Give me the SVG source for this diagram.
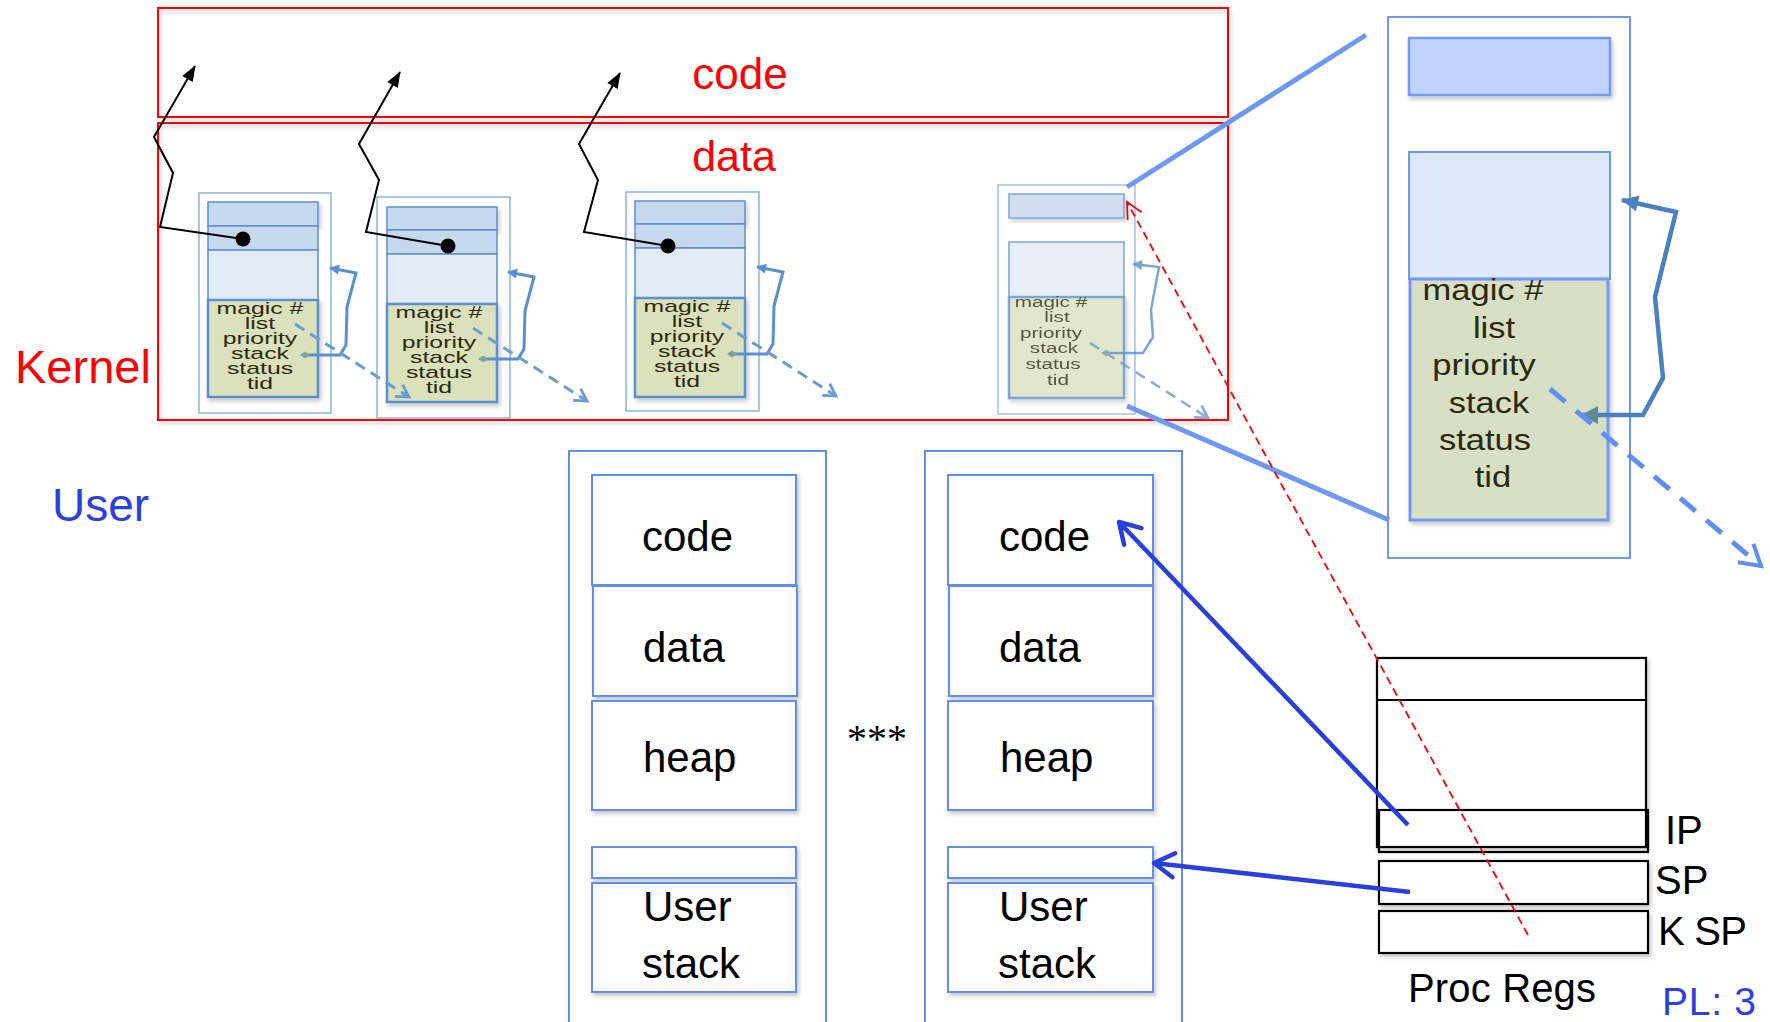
<svg xmlns="http://www.w3.org/2000/svg" width="1770" height="1022" viewBox="0 0 1770 1022">
<style>
.red{fill:none;stroke:#ff0000;stroke-width:2}
.rtxt{font-family:"Liberation Sans",Arial,sans-serif;fill:#ff0000}
.btxt{font-family:"Liberation Sans",Arial,sans-serif;fill:#2a40e0}
.tcbo{fill:#fff;stroke:#8db1dd;stroke-width:1.5}
.hdr{fill:#c6d8ee;stroke:#5b8fcf;stroke-width:1.5}
.lt{fill:#e2eaf5;stroke:#5b8fcf;stroke-width:1.5}
.gr{fill:#dbe0bd;stroke:#5b8fcf;stroke-width:2.5}
.tt{font-family:"Liberation Sans",Arial,sans-serif;font-size:16px;fill:#2b2b0a;text-anchor:middle}
.ub{fill:#fff;stroke:#5f8ff5;stroke-width:2}
.ut{font-family:"Liberation Sans",Arial,sans-serif;font-size:42px;fill:#000}
.reg{fill:#fff;stroke:#000;stroke-width:2.2}
.blk{fill:none;stroke:#000;stroke-width:2}
.loop{fill:none;stroke:#5b8fcf;stroke-width:3}
.dash{fill:none;stroke:#6a9bd1;stroke-width:3;stroke-dasharray:11 7}
.zoom{fill:none;stroke:#6f98f4;stroke-width:5}
.ua{fill:none;stroke:#2a3fe0;stroke-width:4.5}
</style>
<defs>
<filter id="sh" x="-10%" y="-10%" width="130%" height="130%">
<feDropShadow dx="2" dy="3" stdDeviation="2" flood-color="#000" flood-opacity="0.22"/>
</filter>
<marker id="mblk" markerUnits="userSpaceOnUse" viewBox="0 0 1 1" markerWidth="1" markerHeight="1" orient="auto" overflow="visible"><path d="M-15,-6 L1,0 L-15,6 Z" fill="#000"/></marker>
<marker id="mloop" markerUnits="userSpaceOnUse" viewBox="0 0 1 1" markerWidth="1" markerHeight="1" orient="auto" overflow="visible"><path d="M-9,-5 L1,0 L-9,5 Z" fill="#5b8fcf"/></marker>
<marker id="mdia" markerUnits="userSpaceOnUse" viewBox="0 0 1 1" markerWidth="1" markerHeight="1" orient="auto" overflow="visible"><path d="M-5,0 L0,-3.5 L5,0 L0,3.5 Z" fill="#7fa3a3"/></marker>
<marker id="mdv" markerUnits="userSpaceOnUse" viewBox="0 0 1 1" markerWidth="1" markerHeight="1" orient="auto" overflow="visible"><path d="M-12,-7 L0,0 L-12,7" fill="none" stroke="#6a9bd1" stroke-width="2.8"/></marker>
<marker id="mbv" markerUnits="userSpaceOnUse" viewBox="0 0 1 1" markerWidth="1" markerHeight="1" orient="auto" overflow="visible"><path d="M-20,-12 L0,0 L-20,12" fill="none" stroke="#2a3fe0" stroke-width="4.5" stroke-linecap="round" stroke-linejoin="round"/></marker>
<marker id="mrv" markerUnits="userSpaceOnUse" viewBox="0 0 1 1" markerWidth="1" markerHeight="1" orient="auto" overflow="visible"><path d="M-16,-8 L0,0 L-16,8" fill="none" stroke="#ff0000" stroke-width="1.8"/></marker>
<marker id="mbigdv" markerUnits="userSpaceOnUse" viewBox="0 0 1 1" markerWidth="1" markerHeight="1" orient="auto" overflow="visible"><path d="M-20,-12 L0,0 L-20,12" fill="none" stroke="#5f8ff5" stroke-width="4"/></marker>
<marker id="mbigloop" markerUnits="userSpaceOnUse" viewBox="0 0 1 1" markerWidth="1" markerHeight="1" orient="auto" overflow="visible"><path d="M-16,-8 L1,0 L-16,8 Z" fill="#4a7fc1"/></marker>
<marker id="mbigstart" markerUnits="userSpaceOnUse" viewBox="0 0 1 1" markerWidth="1" markerHeight="1" orient="auto-start-reverse" overflow="visible"><path d="M-16,-9 L1,0 L-16,9 Z" fill="#5f8a95"/></marker>
</defs>

<rect x="0" y="0" width="1770" height="1022" fill="#fff"/>

<g id="kernel-regions">
<rect class="red" x="158" y="8" width="1070" height="109" filter="url(#sh)"/>
<rect class="red" x="158" y="123" width="1070" height="297" filter="url(#sh)"/>
<text class="rtxt" x="740" y="89" font-size="44" text-anchor="middle">code</text>
<text class="rtxt" x="734" y="171" font-size="43" text-anchor="middle">data</text>
<text class="rtxt" x="15" y="383" font-size="47">Kernel</text>
<text class="btxt" x="52" y="521" font-size="46">User</text>
</g>

<g id="tcb1" transform="translate(199,193)">
<rect class="tcbo" x="0" y="0" width="132" height="220"/>
<rect class="hdr" x="9" y="9" width="110" height="24" filter="url(#sh)"/>
<rect class="hdr" x="9" y="33" width="110" height="24"/>
<rect class="lt" x="9" y="57" width="110" height="50"/>
<rect class="gr" x="9" y="107" width="110" height="97" filter="url(#sh)"/>
<g class="tt">
<text transform="translate(61,121) scale(1.55,1)">magic #</text>
<text transform="translate(61,136) scale(1.55,1)">list</text>
<text transform="translate(61,151) scale(1.55,1)">priority</text>
<text transform="translate(61,166) scale(1.55,1)">stack</text>
<text transform="translate(61,181) scale(1.55,1)">status</text>
<text transform="translate(61,196) scale(1.55,1)">tid</text>
</g>
</g>

<g id="tcb2" transform="translate(377,197)">
<rect class="tcbo" x="0" y="0" width="133" height="221"/>
<rect class="hdr" x="10" y="10" width="110" height="23" filter="url(#sh)"/>
<rect class="hdr" x="10" y="33" width="110" height="24"/>
<rect class="lt" x="10" y="57" width="110" height="50"/>
<rect class="gr" x="10" y="107" width="110" height="98" filter="url(#sh)"/>
<g class="tt">
<text transform="translate(62,121) scale(1.55,1)">magic #</text>
<text transform="translate(62,136) scale(1.55,1)">list</text>
<text transform="translate(62,151) scale(1.55,1)">priority</text>
<text transform="translate(62,166) scale(1.55,1)">stack</text>
<text transform="translate(62,181) scale(1.55,1)">status</text>
<text transform="translate(62,196) scale(1.55,1)">tid</text>
</g>
</g>

<g id="tcb3" transform="translate(626,192)">
<rect class="tcbo" x="0" y="0" width="133" height="219"/>
<rect class="hdr" x="9" y="9" width="110" height="23" filter="url(#sh)"/>
<rect class="hdr" x="9" y="32" width="110" height="24"/>
<rect class="lt" x="9" y="56" width="110" height="50"/>
<rect class="gr" x="9" y="106" width="110" height="99" filter="url(#sh)"/>
<g class="tt">
<text transform="translate(61,120) scale(1.55,1)">magic #</text>
<text transform="translate(61,135) scale(1.55,1)">list</text>
<text transform="translate(61,150) scale(1.55,1)">priority</text>
<text transform="translate(61,165) scale(1.55,1)">stack</text>
<text transform="translate(61,180) scale(1.55,1)">status</text>
<text transform="translate(61,195) scale(1.55,1)">tid</text>
</g>
</g>

<g id="tcb4" opacity="0.8">
<rect class="tcbo" x="998" y="185" width="137" height="229"/>
<rect class="hdr" x="1009" y="194" width="115" height="24" filter="url(#sh)"/>
<rect class="lt" x="1009" y="242" width="115" height="55"/>
<rect class="gr" x="1009" y="297" width="115" height="101" stroke-width="2" filter="url(#sh)"/>
<g class="tt" style="font-size:15px">
<text transform="translate(1051,307) scale(1.38,1)">magic #</text>
<text transform="translate(1057,322) scale(1.38,1)">list</text>
<text transform="translate(1051,338) scale(1.38,1)">priority</text>
<text transform="translate(1054,353) scale(1.38,1)">stack</text>
<text transform="translate(1053,369) scale(1.38,1)">status</text>
<text transform="translate(1058,385) scale(1.38,1)">tid</text>
</g>
</g>

<g id="tcb-zoomed">
<rect x="1388" y="17" width="242" height="541" fill="#fff" stroke="#6f98f4" stroke-width="2"/>
<rect x="1409" y="38" width="201" height="57" fill="#c0d3fb" stroke="#6f98f4" stroke-width="2.5" filter="url(#sh)"/>
<rect x="1409" y="152" width="201" height="127" fill="#dde8fd" stroke="#6f98f4" stroke-width="2"/>
<rect x="1410" y="279" width="198" height="241" fill="#d9dfc4" stroke="#6f98f4" stroke-width="3" filter="url(#sh)"/>
<g class="tt" style="font-size:30px;fill:#2a2a08">
<text transform="translate(1483,300) scale(1.15,1)">magic #</text>
<text transform="translate(1494,338) scale(1.15,1)">list</text>
<text transform="translate(1484,375) scale(1.15,1)">priority</text>
<text transform="translate(1489,413) scale(1.15,1)">stack</text>
<text transform="translate(1485,450) scale(1.15,1)">status</text>
<text transform="translate(1493,487) scale(1.15,1)">tid</text>
</g>
</g>

<g id="user-space-1">
<rect class="ub" x="569" y="451" width="257" height="590"/>
<rect class="ub" x="592" y="475" width="204" height="110" filter="url(#sh)"/>
<rect class="ub" x="593" y="586" width="204" height="110" filter="url(#sh)"/>
<rect class="ub" x="592" y="701" width="204" height="109" filter="url(#sh)"/>
<rect class="ub" x="592" y="847" width="204" height="31" filter="url(#sh)"/>
<rect class="ub" x="592" y="883" width="204" height="109" filter="url(#sh)"/>
<text class="ut" x="642" y="551">code</text>
<text class="ut" x="643" y="662">data</text>
<text class="ut" x="643" y="772">heap</text>
<text class="ut" x="643" y="921">User</text>
<text class="ut" x="642" y="978">stack</text>
</g>

<g id="ellipsis">
<text x="847" y="752" font-family="'Liberation Serif','Times New Roman',serif" font-size="40" fill="#000">***</text>
</g>

<g id="user-space-2">
<rect class="ub" x="925" y="451" width="257" height="590"/>
<rect class="ub" x="948" y="475" width="205" height="110" filter="url(#sh)"/>
<rect class="ub" x="949" y="586" width="204" height="110" filter="url(#sh)"/>
<rect class="ub" x="948" y="701" width="205" height="109" filter="url(#sh)"/>
<rect class="ub" x="948" y="847" width="205" height="31" filter="url(#sh)"/>
<rect class="ub" x="948" y="883" width="205" height="109" filter="url(#sh)"/>
<text class="ut" x="999" y="551">code</text>
<text class="ut" x="999" y="662">data</text>
<text class="ut" x="1000" y="772">heap</text>
<text class="ut" x="999" y="921">User</text>
<text class="ut" x="998" y="978">stack</text>
</g>

<g id="proc-regs">
<rect class="reg" x="1377" y="658" width="269" height="189" filter="url(#sh)"/>
<line x1="1377" y1="700" x2="1646" y2="700" stroke="#000" stroke-width="2.2"/>
<rect class="reg" x="1379" y="810" width="269" height="42" style="fill:none"/>
<rect class="reg" x="1379" y="861" width="269" height="43" filter="url(#sh)"/>
<rect class="reg" x="1379" y="911" width="269" height="42" filter="url(#sh)"/>
<text class="ut" x="1665" y="844" style="font-size:40px">IP</text>
<text class="ut" x="1655" y="894" style="font-size:40px">SP</text>
<text class="ut" x="1658" y="945" style="font-size:40px" textLength="89">K SP</text>
<text class="ut" x="1408" y="1002" style="font-size:40px" textLength="188">Proc Regs</text>
<text class="btxt" x="1662" y="1015" font-size="39" textLength="94">PL: 3</text>
</g>

<g id="connectors">
<path class="blk" d="M243,239 L160,227 L173,173 L154,137 L195,66" marker-end="url(#mblk)"/>
<circle cx="243" cy="239" r="7.5" fill="#000"/>
<path class="blk" d="M448,246 L366,232 L379,180 L359,144 L400,72" marker-end="url(#mblk)"/>
<circle cx="448" cy="246" r="7.5" fill="#000"/>
<path class="blk" d="M668,246 L584,232 L598,180 L579,144 L620,73" marker-end="url(#mblk)"/>
<circle cx="668" cy="246" r="7.5" fill="#000"/>

<path class="loop" d="M305,355 L340,355 L346,345 L347,307 L356,273 L330,268" marker-start="url(#mdia)" marker-end="url(#mloop)"/>
<path class="loop" d="M483,359 L518,359 L524,349 L525,311 L534,277 L508,272" marker-start="url(#mdia)" marker-end="url(#mloop)"/>
<path class="loop" d="M732,354 L767,354 L773,344 L774,306 L783,272 L757,267" marker-start="url(#mdia)" marker-end="url(#mloop)"/>
<path class="dash" d="M295,324 L409,397" marker-end="url(#mdv)"/>
<path class="dash" d="M473,328 L587,401" marker-end="url(#mdv)"/>
<path class="dash" d="M722,323 L836,396" marker-end="url(#mdv)"/>

<g opacity="0.8">
<path class="loop" style="stroke-width:2.5" d="M1106,353 L1143,353 L1153,337 L1151,310 L1159,267 L1133,264" marker-start="url(#mdia)" marker-end="url(#mloop)"/>
<path class="dash" style="stroke-width:2.5" d="M1090,343 L1208,418" marker-end="url(#mdv)"/>
</g>

<path class="zoom" d="M1127,187 L1366,35"/>
<path class="zoom" d="M1127,406 L1389,520"/>

<path d="M1582,415 L1643,415 L1663,378 L1655,297 L1676,212 L1622,200" fill="none" stroke="#4a7fc1" stroke-width="4.5" marker-start="url(#mbigstart)" marker-end="url(#mbigloop)"/>
<path d="M1550,389 L1761,566" fill="none" stroke="#5f8ff5" stroke-width="5" stroke-dasharray="20 14" marker-end="url(#mbigdv)"/>

<path d="M1528,935 L1127,202" fill="none" stroke="#ff0000" stroke-width="1.8" stroke-dasharray="8 5" marker-end="url(#mrv)"/>

<path class="ua" d="M1408,825 L1119,522" marker-end="url(#mbv)"/>
<path class="ua" d="M1410,892 L1154,863" marker-end="url(#mbv)"/>
</g>
</svg>
